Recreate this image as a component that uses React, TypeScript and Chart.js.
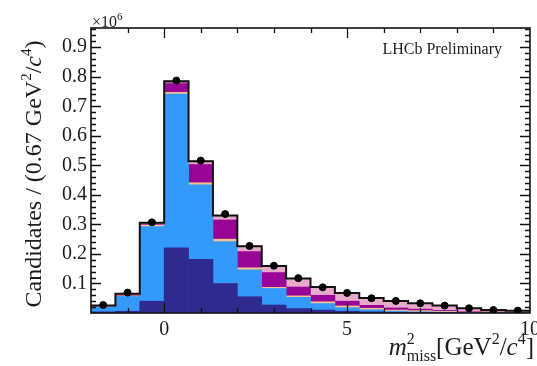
import React, { useEffect, useRef } from 'react';
import { Chart, registerables } from 'chart.js';

Chart.register(...registerables);

// ---- data (units of 10^6 candidates) ----
const binLowEdges = [-2, -1.3333, -0.6667, 0, 0.6667, 1.3333, 2, 2.6667, 3.3333, 4, 4.6667, 5.3333, 6, 6.6667, 7.3333, 8, 8.6667, 9.3333];
const binHighEdge = 10;
const dataValues = [0.027, 0.069, 0.307, 0.787, 0.516, 0.335, 0.227, 0.160, 0.118, 0.087, 0.068, 0.050, 0.041, 0.033, 0.025, 0.016, 0.010, 0.008];

const navyComp = [0.004, 0.006, 0.040, 0.221, 0.182, 0.100, 0.055, 0.027, 0.015, 0.010, 0.006, 0.004, 0.002, 0.001, 0.001, 0.0005, 0.0003, 0.0002];
const blueComp = [0.016, 0.050, 0.253, 0.520, 0.252, 0.142, 0.091, 0.056, 0.038, 0.022, 0.012, 0.007, 0.004, 0.003, 0.002, 0.001, 0.0007, 0.0005];
const peachComp = [0.001, 0.002, 0.004, 0.006, 0.007, 0.008, 0.007, 0.004, 0.005, 0.006, 0.006, 0.005, 0.004, 0.004, 0.003, 0.002, 0.0015, 0.001];
const purpleComp = [0.001, 0.002, 0.002, 0.030, 0.062, 0.065, 0.055, 0.050, 0.030, 0.022, 0.016, 0.010, 0.007, 0.005, 0.003, 0.002, 0.001, 0.0008];
const pinkComp = [0.002, 0.003, 0.003, 0.003, 0.008, 0.012, 0.016, 0.020, 0.027, 0.026, 0.026, 0.024, 0.023, 0.019, 0.015, 0.010, 0.006, 0.005];
const redComp = [0.001, 0.002, 0.004, 0.005, 0.003, 0.003, 0.002, 0.002, 0.002, 0.002, 0.002, 0.001, 0.001, 0.001, 0.001, 0.0005, 0.0005, 0.0005];

const yTickValues = [0.1, 0.2, 0.3, 0.4, 0.5, 0.6, 0.7, 0.8, 0.9];
const xTickValues = [0, 5, 10];
const xMin = -2;
const xMax = 10;
const yMax = 0.965;

const SERIF = "'Liberation Serif', 'DejaVu Serif', serif";
const TXT = '#1c1c1c';

type Seg = { t: string; size: number; italic?: boolean; dy?: number; noAdvance?: boolean };

function drawRich(ctx: CanvasRenderingContext2D, segs: Seg[], x: number, y: number, align: 'left' | 'right' | 'center') {
  const widths = segs.map((s) => {
    ctx.font = `${s.italic ? 'italic ' : ''}${s.size}px ${SERIF}`;
    return ctx.measureText(s.t).width;
  });
  let total = 0;
  segs.forEach((s, i) => { if (!s.noAdvance) total += widths[i]; });
  let cx = align === 'left' ? x : align === 'right' ? x - total : x - total / 2;
  ctx.textAlign = 'left';
  ctx.textBaseline = 'alphabetic';
  segs.forEach((s, i) => {
    ctx.font = `${s.italic ? 'italic ' : ''}${s.size}px ${SERIF}`;
    ctx.fillText(s.t, cx, y + (s.dy || 0));
    if (!s.noAdvance) cx += widths[i];
  });
}

const framePlugin = {
  id: 'framePlugin',
  afterDraw(chart: any) {
    const { ctx, chartArea: a, scales } = chart;
    const ys = scales.y;
    const xs = scales.x2;
    ctx.save();
    ctx.strokeStyle = '#111';
    ctx.lineWidth = 1.6;
    ctx.strokeRect(a.left, a.top, a.right - a.left, a.bottom - a.top);
    ctx.lineWidth = 1.3;
    ctx.beginPath();
    // y ticks (left + right)
    for (let k = 1; k * 0.02 < yMax; k++) {
      const v = k * 0.02;
      const major = k % 5 === 0;
      const len = major ? 10 : 5;
      const py = Math.round(ys.getPixelForValue(v)) + 0.5;
      ctx.moveTo(a.left, py); ctx.lineTo(a.left + len, py);
      ctx.moveTo(a.right, py); ctx.lineTo(a.right - len, py);
    }
    // x ticks (bottom + top)
    for (let v = xMin + 1; v < xMax; v++) {
      const major = xTickValues.includes(v);
      const len = major ? 10 : 5;
      const px = Math.round(xs.getPixelForValue(v)) + 0.5;
      ctx.moveTo(px, a.bottom); ctx.lineTo(px, a.bottom - len);
      ctx.moveTo(px, a.top); ctx.lineTo(px, a.top + len);
    }
    ctx.stroke();

    ctx.fillStyle = TXT;
    // x10^6
    drawRich(ctx, [
      { t: '\u00d710', size: 16 },
      { t: '6', size: 11, dy: -7 },
    ], a.left + 1, a.top - 1, 'left');
    // LHCb Preliminary
    drawRich(ctx, [{ t: 'LHCb Preliminary', size: 16 }], a.right - 28, a.top + 26, 'right');
    // x title
    drawRich(ctx, [
      { t: 'm', size: 25, italic: true },
      { t: '2', size: 16, dy: -11, noAdvance: true },
      { t: 'miss', size: 16, dy: 6 },
      { t: '[GeV', size: 25 },
      { t: '2', size: 16, dy: -11 },
      { t: '/', size: 25 },
      { t: 'c', size: 25, italic: true },
      { t: '4', size: 16, dy: -11 },
      { t: ']', size: 25 },
    ], 534, 355, 'right');
    // y title
    ctx.save();
    ctx.translate(41, 174);
    ctx.rotate(-Math.PI / 2);
    drawRich(ctx, [
      { t: 'Candidates / (0.67 GeV', size: 24 },
      { t: '2', size: 15, dy: -10 },
      { t: '/', size: 24 },
      { t: 'c', size: 24, italic: true },
      { t: '4', size: 15, dy: -10 },
      { t: ')', size: 24 },
    ], 0, 0, 'center');
    ctx.restore();
    ctx.restore();
  },
};

export default function App() {
  const ref = useRef<HTMLCanvasElement | null>(null);

  useEffect(() => {
    if (!ref.current) return;
    const labels = binLowEdges.map((e) => e.toFixed(2));
    const binEdgesAll = [...binLowEdges, binHighEdge];
    const modelTotal = binLowEdges.map((_, i) =>
      navyComp[i] + blueComp[i] + peachComp[i] + purpleComp[i] + pinkComp[i] + redComp[i]);
    const outlinePts = binEdgesAll.map((e, i) => ({ x: e, y: modelTotal[Math.min(i, modelTotal.length - 1)] }));
    const dataPts = binLowEdges.map((e, i) => ({ x: (e + binEdgesAll[i + 1]) / 2, y: dataValues[i] }));

    const barDs = (label: string, data: number[], color: string) => ({
      type: 'bar' as const,
      label,
      data,
      backgroundColor: color,
      borderColor: color,
      borderWidth: 0,
      barPercentage: 1,
      categoryPercentage: 1,
      grouped: false,
      xAxisID: 'x',
      yAxisID: 'y',
      stack: 'model',
      order: 2,
    });

    const chart = new Chart(ref.current, {
      type: 'bar',
      data: {
        labels,
        datasets: [
          barDs('navy', navyComp, '#2f2b8e'),
          barDs('blue', blueComp, '#3399fa'),
          barDs('peach', peachComp, '#f3c28e'),
          barDs('purple', purpleComp, '#980597'),
          barDs('pink', pinkComp, '#e7aacd'),
          barDs('red', redComp, '#8a1030'),
          {
            type: 'line' as const,
            label: 'outline',
            data: outlinePts as any,
            xAxisID: 'x2',
            yAxisID: 'y',
            stepped: 'before',
            borderColor: '#111',
            borderWidth: 2,
            pointRadius: 0,
            fill: false,
            stack: 'outline',
            order: 1,
          } as any,
          {
            type: 'scatter' as const,
            label: 'data',
            data: dataPts as any,
            xAxisID: 'x2',
            yAxisID: 'y',
            backgroundColor: '#000',
            borderColor: '#000',
            pointRadius: 3.5,
            stack: 'pts',
            order: 0,
          } as any,
        ],
      },
      options: {
        responsive: false,
        animation: false,
        layout: { padding: { top: 28, right: 7, left: 0, bottom: 0 } },
        plugins: { legend: { display: false }, tooltip: { enabled: false } },
        scales: {
          x: { type: 'category', display: false, stacked: true, offset: true },
          x2: {
            type: 'linear',
            position: 'bottom',
            offset: false,
            min: xMin,
            max: xMax,
            grid: { display: false, drawTicks: false, offset: false },
            border: { display: false },
            afterBuildTicks: (s: any) => { s.ticks = xTickValues.map((v) => ({ value: v })); },
            ticks: { color: TXT, font: { family: SERIF, size: 20 }, padding: 5, maxRotation: 0, callback: (v: any) => String(v) },
            afterFit: (s: any) => { s.height = 53; s.paddingLeft = 0; s.paddingRight = 0; },
          },
          y: {
            type: 'linear',
            stacked: true,
            min: 0,
            max: yMax,
            grid: { display: false, drawTicks: false },
            border: { display: false },
            afterBuildTicks: (s: any) => { s.ticks = yTickValues.map((v) => ({ value: v })); },
            ticks: { color: TXT, font: { family: SERIF, size: 20 }, padding: 4, callback: (v: any) => Number(v).toFixed(1) },
            afterFit: (s: any) => { s.width = 91; s.paddingTop = 0; s.paddingBottom = 0; },
          },
        },
      } as any,
      plugins: [framePlugin],
    });
    return () => chart.destroy();
  }, []);

  return (
    <div style={{ position: 'fixed', left: 0, top: 0, width: 537, height: 366, background: '#fff' }}>
      <canvas ref={ref} width={537} height={366} style={{ display: 'block' }} />
    </div>
  );
}
